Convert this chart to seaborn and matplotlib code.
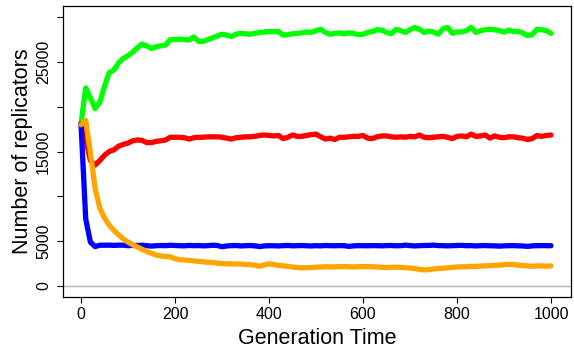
import numpy as np
import pandas as pd
import matplotlib
matplotlib.use("Agg")
import matplotlib.pyplot as plt
import seaborn as sns

# generation time, sampled every 10 generations
gens = np.arange(0, 1001, 10)

green = [18100, 22100, 21000, 19800, 20500, 22300, 23800, 24100, 24900, 25400,
         25700, 26100, 26600, 27000, 26800, 26500, 26700, 26800, 26900, 27500,
         27500, 27550, 27500, 27450, 27800, 27300, 27300, 27500, 27700, 27900,
         28100, 28000, 27850, 28100, 28200, 28150, 28100, 28200, 28300, 28350,
         28400, 28380, 28400, 28000, 28050, 28150, 28200, 28250, 28350, 28300,
         28500, 28650, 28300, 28100, 28200, 28250, 28150, 28250, 28200, 28050,
         28100, 28300, 28400, 28600, 28550, 28300, 28150, 28650, 28500, 28300,
         28600, 28850, 28650, 28300, 28450, 28350, 28100, 28700, 28850, 28200,
         28350, 28350, 28500, 28850, 28300, 28500, 28600, 28650, 28600, 28500,
         28350, 28550, 28400, 28400, 28250, 27950, 28050, 28650, 28600, 28500,
         28200]

red = [18100, 16400, 14000, 13500, 14000, 14600, 15000, 15200, 15600, 15800,
       15950, 16200, 16300, 16250, 16000, 16000, 16150, 16200, 16300, 16600,
       16600, 16600, 16550, 16400, 16550, 16600, 16600, 16650, 16650, 16650,
       16600, 16500, 16400, 16550, 16600, 16650, 16650, 16700, 16800, 16850,
       16800, 16750, 16800, 16450, 16600, 16850, 16700, 16700, 16800, 16900,
       16950, 16650, 16400, 16500, 16350, 16600, 16600, 16650, 16700, 16700,
       16800, 16500, 16450, 16650, 16750, 16750, 16650, 16600, 16650, 16600,
       16700, 16650, 16850, 16600, 16550, 16600, 16650, 16700, 16600, 16450,
       16700, 16750, 16650, 16950, 16700, 16750, 16850, 16500, 16750, 16600,
       16550, 16650, 16650, 16550, 16500, 16350, 16450, 16800, 16700, 16800,
       16850]

blue = [18100, 7500, 4900, 4400, 4550, 4550, 4560, 4530, 4560, 4550,
        4500, 4530, 4520, 4550, 4500, 4450, 4500, 4520, 4500, 4550,
        4520, 4500, 4480, 4530, 4500, 4520, 4480, 4500, 4550, 4520,
        4380, 4470, 4500, 4520, 4470, 4500, 4520, 4480, 4400, 4470,
        4500, 4490, 4470, 4500, 4530, 4480, 4500, 4520, 4490, 4470,
        4500, 4480, 4520, 4500, 4490, 4510, 4500, 4420, 4480, 4500,
        4500, 4490, 4510, 4500, 4480, 4510, 4520, 4490, 4500, 4560,
        4510, 4470, 4500, 4520, 4530, 4560, 4510, 4500, 4480, 4500,
        4520, 4540, 4500, 4510, 4470, 4500, 4520, 4490, 4480, 4450,
        4480, 4500, 4510, 4480, 4470, 4420, 4480, 4500, 4510, 4500,
        4500]

orange = [18000, 18500, 14900, 10900, 8700, 7600, 6800, 6200, 5700, 5250,
          4900, 4600, 4350, 4100, 3850, 3650, 3450, 3350, 3300, 3250,
          3050, 2950, 2900, 2850, 2800, 2750, 2700, 2650, 2620, 2550,
          2500, 2480, 2470, 2450, 2450, 2400, 2380, 2330, 2200, 2350,
          2480, 2400, 2300, 2250, 2200, 2120, 2060, 2030, 2040, 2060,
          2100, 2120, 2150, 2130, 2140, 2160, 2170, 2150, 2130, 2150,
          2170, 2160, 2150, 2130, 2080, 2050, 2080, 2100, 2080, 2050,
          2000, 1950, 1850, 1800, 1820, 1900, 1950, 1980, 2030, 2080,
          2120, 2150, 2130, 2200, 2180, 2220, 2250, 2280, 2300, 2330,
          2380, 2420, 2400, 2330, 2280, 2250, 2200, 2230, 2260, 2200,
          2250]

series = {"green": green, "red": red, "blue": blue, "orange": orange}
colors = {"green": "#00ff00", "red": "#ff0000", "blue": "#0000ff", "orange": "#ffa500"}

df = pd.concat([pd.DataFrame({"gen": gens, "count": v, "type": k})
                for k, v in series.items()], ignore_index=True)

sns.set_theme(style="ticks")
plt.rcParams["font.family"] = ["Liberation Sans", "DejaVu Sans"]
plt.rcParams["text.color"] = "black"
plt.rcParams["axes.labelcolor"] = "black"

fig = plt.figure(figsize=(5.74, 3.49), dpi=100)
ax = fig.add_axes([63 / 574, 52 / 349, 508 / 574, 291 / 349])

# grey reference line at zero
ax.axhline(0, color="#b3b3b3", linewidth=1, zorder=1)

sns.lineplot(data=df, x="gen", y="count", hue="type", palette=colors,
             linewidth=3.8, legend=False, sort=False, estimator=None, ax=ax)

ax.set_xlim(-38.3, 1042.5)
ax.set_ylim(-1228, 31250)

ax.set_xticks([0, 200, 400, 600, 800, 1000])
ax.set_yticks([0, 5000, 10000, 15000, 20000, 25000, 30000])
ax.set_yticklabels(["0", "5000", "", "15000", "", "25000", ""], rotation=90, va="center")
ax.tick_params(axis="both", direction="out", length=4.5, width=0.8, color="black",
               labelsize=11.5, labelcolor="black")
ax.tick_params(axis="y", pad=4)
ax.tick_params(axis="x", pad=3)

for s in ax.spines.values():
    s.set_visible(True)
    s.set_color("black")
    s.set_linewidth(0.9)

ax.set_xlabel("Generation Time", fontsize=15.5, labelpad=4)
ax.set_ylabel("Number of replicators", fontsize=15.5, labelpad=2)

fig.savefig("out.png", dpi=100)
